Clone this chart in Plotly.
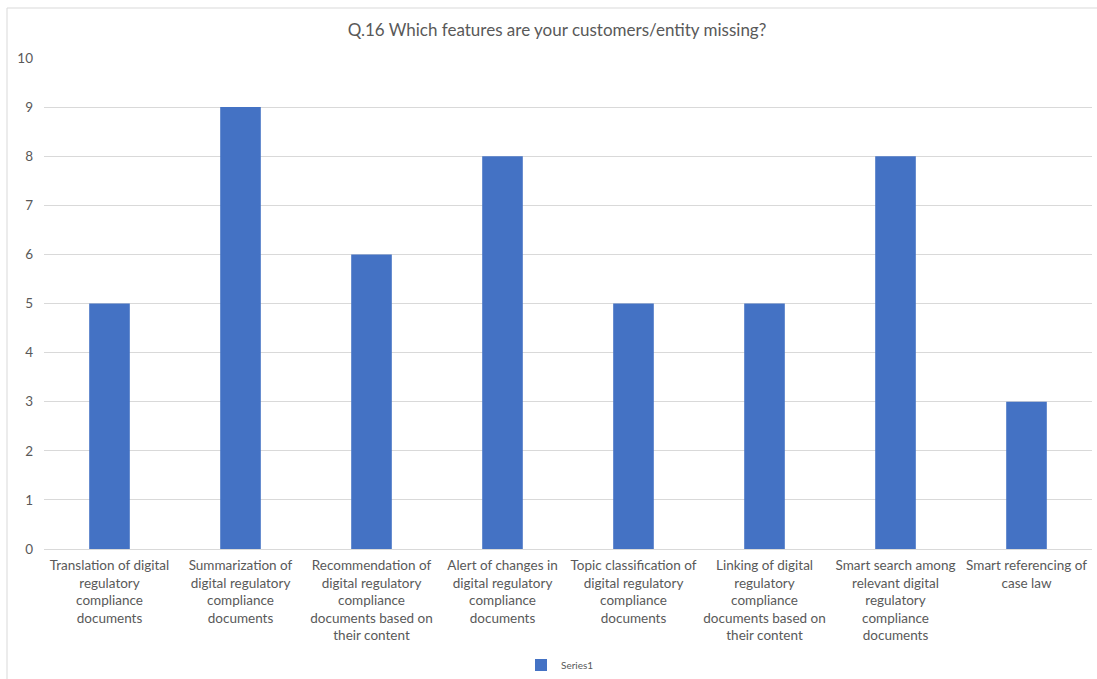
import plotly.graph_objects as go

categories = [
    "Translation of digital<br>regulatory<br>compliance<br>documents",
    "Summarization of<br>digital regulatory<br>compliance<br>documents",
    "Recommendation of<br>digital regulatory<br>compliance<br>documents based on<br>their content",
    "Alert of changes in<br>digital regulatory<br>compliance<br>documents",
    "Topic classification of<br>digital regulatory<br>compliance<br>documents",
    "Linking of digital<br>regulatory<br>compliance<br>documents based on<br>their content",
    "Smart search among<br>relevant digital<br>regulatory<br>compliance<br>documents",
    "Smart referencing of<br>case law",
]
series1 = [5, 9, 6, 8, 5, 5, 8, 3]
y_ticks = list(range(0, 11))

W, H = 1097, 679
PLOT_H = 491
PLOT_W = 1048
FONT = "Lato, 'Open Sans', sans-serif"
TEXT = "#595959"
GRID = "#D9D9D9"

fig = go.Figure(
    go.Bar(
        x=categories,
        y=series1,
        name="Series1",
        marker=dict(color="#4472C4", line=dict(width=0)),
    )
)

fig.update_layout(
    width=W,
    height=H,
    paper_bgcolor="white",
    plot_bgcolor="white",
    margin=dict(l=44, r=5, t=58, b=130, autoexpand=False),
    bargap=0.69,
    font=dict(family=FONT, color=TEXT, size=13.5),
    title=dict(
        text="Q.16 Which features are your customers/entity missing?",
        x=557 / W,
        xanchor="center",
        y=1 - 30 / H,
        yanchor="middle",
        font=dict(size=17, color=TEXT, family=FONT),
    ),
    showlegend=True,
    legend=dict(
        orientation="h",
        x=0.5 - 8 / PLOT_W,
        xanchor="center",
        y=-(665 - 549) / PLOT_H,
        yanchor="middle",
        font=dict(size=10, color=TEXT),
        itemwidth=30,
    ),
    shapes=[
        dict(type="line", xref="paper", yref="paper", x0=-37 / PLOT_W, x1=1.01,
             y0=1 + 50 / PLOT_H, y1=1 + 50 / PLOT_H, line=dict(color=GRID, width=1)),
        dict(type="line", xref="paper", yref="paper", x0=-37 / PLOT_W, x1=-37 / PLOT_W,
             y0=1 + 50 / PLOT_H, y1=-140 / PLOT_H, line=dict(color=GRID, width=1)),
    ],
)

fig.update_xaxes(
    automargin=False,
    showgrid=False,
    showline=True,
    linecolor=GRID,
    linewidth=1,
    ticks="",
    tickangle=0,
    ticklabelstandoff=4,
    tickfont=dict(size=13.5, color=TEXT),
)
fig.update_yaxes(
    automargin=False,
    range=[0, 10],
    tickvals=y_ticks,
    showgrid=True,
    gridcolor=GRID,
    gridwidth=1,
    zeroline=False,
    showline=False,
    ticks="",
    ticklabelstandoff=10,
    tickfont=dict(size=13.5, color=TEXT),
)

fig.write_html("out.html")
